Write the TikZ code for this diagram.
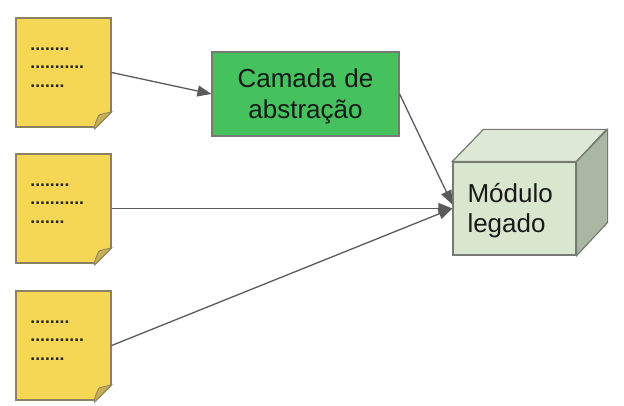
\documentclass[tikz,border=0pt]{standalone}
\usepackage{fontspec}
\setmainfont{Liberation Sans}
\usepackage{tikz}
\usetikzlibrary{arrows.meta, positioning}

\definecolor{docyellow}{HTML}{F5D655}
\definecolor{docedge}{HTML}{8A8260}
\definecolor{docfold}{HTML}{C9AE52}
\definecolor{layergreen}{HTML}{45C25E}
\definecolor{cubefront}{HTML}{D8E7CE}
\definecolor{cubetop}{HTML}{DEE9D5}
\definecolor{cubeside}{HTML}{A9B7A3}
\definecolor{cubeedge}{HTML}{757A72}
\definecolor{arrowgray}{HTML}{5A5A5A}

\tikzset{
  docbox/.style={draw=docedge, fill=docyellow, line width=1.4pt, minimum width=95pt, minimum height=109pt, inner sep=0pt},
  dotstext/.style={font=\bfseries\fontsize{17.5}{18.5}\selectfont, align=left, inner sep=0pt, text=black!85},
  layerbox/.style={draw=cubeedge, fill=layergreen, line width=1.2pt, minimum width=187pt, minimum height=84pt, align=center, inner sep=0pt, text width=170pt, text height=24pt, font=\fontsize{26}{31}\selectfont, text=black!90},
  facebox/.style={draw=cubeedge, fill=cubefront, line width=1.2pt, minimum width=123pt, minimum height=93pt, align=left, inner sep=0pt, text width=94pt, text height=24pt, font=\fontsize{26}{30}\selectfont, text=black!90},
  link/.style={draw=arrowgray, line width=1.3pt, -{Triangle[length=14pt, width=11pt]}}
}

\begin{document}
\begin{tikzpicture}[x=1pt, y=1pt]
    \useasboundingbox (0, 0) rectangle (624, 406);

    % Documents on the left, with their folded corner
    \foreach \name/\ypos in {docA/333.5, docB/197.5, docC/60.5} {
        \node[docbox] (\name) at (63.5, \ypos) {};
        \fill[white] (\name.south east) ++(-16, -1) -- ++(17, 0) -- ++(0, 17) -- cycle;
        \draw[docedge, line width=1.4pt] (\name.south east) ++(0, 16) -- ++(-16, -16);
        \filldraw[draw=docedge, fill=docfold, line width=0.8pt] (\name.south east) ++(-16, 0) -- ++(16, 16) -- ++(-12, -3) .. controls ++(-3, -2) and ++(-4, -7) .. cycle;
        \node[dotstext, below right=30pt and 15pt of \name.north west] (\name-dots) {........\\...........\\.......};
    }

    \node[layerbox] (camada) at (305.5, 312) {Camada de\\abstração};

    % Cube
    \node[facebox] (modulo) at (514.5, 197.5) {Módulo\\legado};
    \filldraw[draw=cubeedge, fill=cubetop, line width=1.2pt] (modulo.north west) -- ++(31, 32) -- ++(123, 0) -- (modulo.north east) -- cycle;
    \filldraw[draw=cubeedge, fill=cubeside, line width=1.2pt] (modulo.north east) -- ++(31, 32) -- ++(0, -93) -- (modulo.south east) -- cycle;

    \coordinate (entry) at ([yshift=4pt]modulo.west);
    \draw[link] (docA.east) -- (camada.west);
    \draw[link] (camada.east) -- (entry);
    \draw[link] (docB.east) -- (modulo.west);
    \draw[link] (docC.east) -- (modulo.west);
\end{tikzpicture}
\end{document}
